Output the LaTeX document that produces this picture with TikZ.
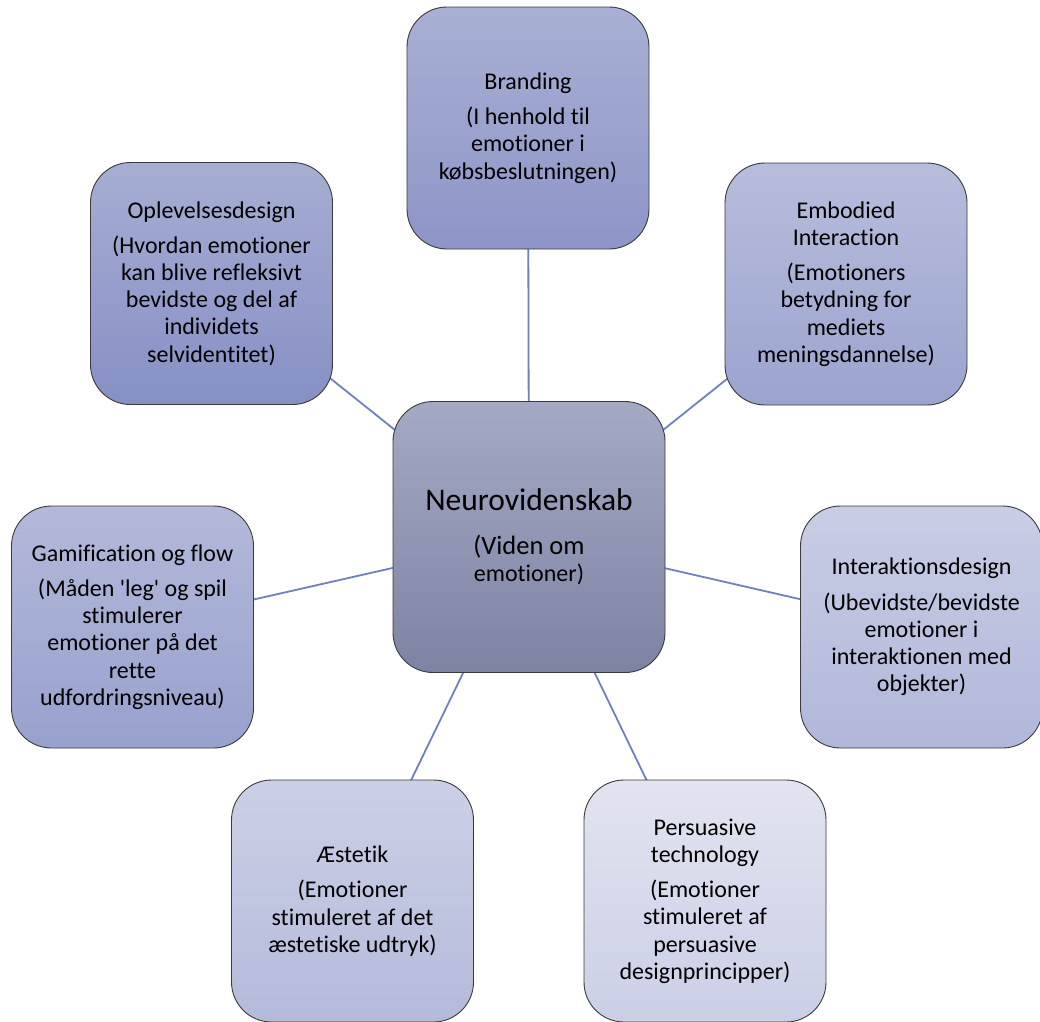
\documentclass[tikz,border=0pt]{standalone}
\usepackage{fontspec}
\setmainfont[Ligatures={NoCommon}]{Carlito}
\usetikzlibrary{backgrounds}

% fills: top / bottom of each gradient
\definecolor{hubT}{HTML}{A4A9C4}\definecolor{hubB}{HTML}{7D83A3}
\definecolor{brT}{HTML}{A9B0D4}\definecolor{brB}{HTML}{8C95C7}
\definecolor{opT}{HTML}{A6AED3}\definecolor{opB}{HTML}{8690C4}
\definecolor{emT}{HTML}{B7BDDC}\definecolor{emB}{HTML}{9BA4CF}
\definecolor{gaT}{HTML}{B3B9DA}\definecolor{gaB}{HTML}{97A1CD}
\definecolor{inT}{HTML}{C9CDE5}\definecolor{inB}{HTML}{B0B7D9}
\definecolor{aeT}{HTML}{CCD0E6}\definecolor{aeB}{HTML}{B4BADA}
\definecolor{peT}{HTML}{E2E4F0}\definecolor{peB}{HTML}{CBCFE6}
\definecolor{linkcol}{HTML}{6F80C0}
\definecolor{edgecol}{HTML}{3A3A3A}

\newcommand{\boxfont}{\fontsize{24pt}{27.2pt}\selectfont}
\newcommand{\gap}{\\[8pt]}

\tikzset{
  topic/.style 2 args={draw=edgecol, line width=0.9pt, rounded corners=40pt,
    top color=#1, bottom color=#2, minimum width=242pt, minimum height=242pt,
    inner sep=0pt, align=center, font=\boxfont, text=black},
  link/.style={draw=linkcol, line width=1.8pt}
}

\begin{document}
\begin{tikzpicture}[x=1pt, y=-1pt]
\useasboundingbox (0,0) rectangle (1040,1021);

% central topic
\node[topic={hubT}{hubB}, minimum width=272pt, minimum height=271pt] (hub) at (529,537)
  {\fontsize{31.5pt}{34pt}\selectfont Neurovidenskab\\[17pt]
   \fontsize{26.5pt}{29pt}\selectfont (Viden om\\emotioner)};

% surrounding topics
\node[topic={brT}{brB}] (brand) at (528,128)
  {Branding\gap (I henhold til\\emotioner i\\købsbeslutningen)};
\node[topic={opT}{opB}] (oplev) at (211.5,283.5)
  {Oplevelsesdesign\gap (Hvordan emotioner\\kan blive refleksivt\\bevidste og del af\\individets\\selvidentitet)};
\node[topic={emT}{emB}] (embod) at (846,284)
  {Embodied\\Interaction\gap (Emotioners\\betydning for\\mediets\\meningsdannelse)};
\node[topic={gaT}{gaB}] (gamif) at (132.5,627)
  {Gamification og flow\gap (Måden \textquotesingle leg\textquotesingle{} og spil\\stimulerer\\emotioner på det\\rette\\udfordringsniveau)};
\node[topic={inT}{inB}] (inter) at (921.5,627)
  {Interaktionsdesign\gap (Ubevidste/bevidste\\emotioner i\\interaktionen med\\objekter)};
\node[topic={aeT}{aeB}] (aest) at (352.5,901)
  {Æstetik\gap (Emotioner\\stimuleret af det\\æstetiske udtryk)};
\node[topic={peT}{peB}] (pers) at (705,901)
  {Persuasive\\technology\gap (Emotioner\\stimuleret af\\persuasive\\designprincipper)};

% spokes, centre to centre, hidden under the boxes
\begin{scope}[on background layer]
  \foreach \t in {brand,oplev,embod,gamif,inter,aest,pers}
    \draw[link] (hub.center) -- (\t.center);
\end{scope}
\end{tikzpicture}
\end{document}
